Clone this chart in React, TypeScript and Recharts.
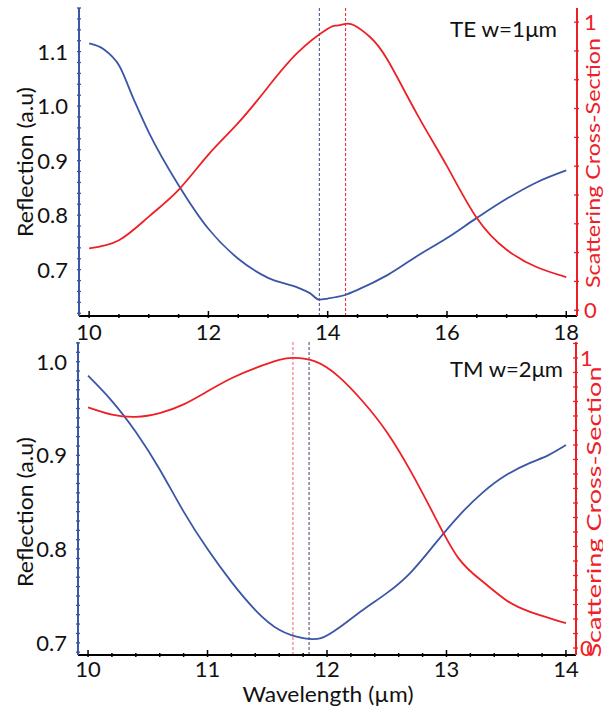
import { LineChart, Line, XAxis, YAxis, ReferenceLine, Label } from 'recharts'

const FONT = 'Lato, "Open Sans", sans-serif'
const BLUE = '#3b56a6'
const RED = '#ee2027'

// TE w=1µm panel
const teBlueX = [10, 10.25, 10.5, 10.75, 11, 11.5, 12, 12.5, 13, 13.5, 13.7, 13.86, 14, 14.3, 14.5, 15, 15.5, 16, 16.5, 17, 17.5, 18]
const teBlueY = [1.115, 1.104, 1.075, 1.012, 0.952, 0.855, 0.775, 0.72, 0.685, 0.667, 0.657, 0.645, 0.647, 0.654, 0.663, 0.69, 0.725, 0.758, 0.795, 0.83, 0.86, 0.882]
const teRedX = [10, 10.5, 11, 11.5, 12, 12.5, 13, 13.5, 14, 14.15, 14.3, 14.45, 14.7, 15, 15.5, 16, 16.5, 17, 17.5, 18]
const teRedY = [0.215, 0.243, 0.325, 0.418, 0.54, 0.65, 0.775, 0.895, 0.977, 0.988, 0.994, 0.988, 0.95, 0.87, 0.68, 0.5, 0.32, 0.21, 0.15, 0.115]
const teXLabels = [10, 12, 14, 16, 18]
const teLeftLabels = [0.7, 0.8, 0.9, 1.0, 1.1]
const teBlueDip = 13.86
const teRedPeak = 14.3

// TM w=2µm panel
const tmBlueX = [10, 10.2, 10.4, 10.6, 10.8, 11, 11.2, 11.4, 11.6, 11.8, 11.95, 12.1, 12.3, 12.5, 12.7, 12.9, 13.1, 13.3, 13.5, 13.7, 13.85, 14]
const tmBlueY = [0.985, 0.958, 0.925, 0.885, 0.84, 0.8, 0.765, 0.735, 0.714, 0.705, 0.705, 0.716, 0.735, 0.753, 0.775, 0.805, 0.835, 0.86, 0.879, 0.892, 0.9, 0.911]
const tmRedX = [10, 10.2, 10.4, 10.6, 10.8, 11, 11.2, 11.4, 11.6, 11.72, 11.9, 12.1, 12.3, 12.5, 12.7, 12.9, 13.1, 13.3, 13.5, 13.7, 14]
const tmRedY = [0.83, 0.805, 0.797, 0.81, 0.84, 0.885, 0.93, 0.965, 0.993, 1.0, 0.988, 0.935, 0.85, 0.745, 0.61, 0.455, 0.31, 0.23, 0.165, 0.125, 0.086]
const tmXLabels = [10, 11, 12, 13, 14]
const tmLeftLabels = [0.7, 0.8, 0.9, 1.0]
const tmRedPeak = 11.715
const tmBlueDip = 11.85

const rightLabels = [0, 1]

const steps = (from: number, to: number, step: number) => {
  const n = Math.round((to - from) / step)
  const out: number[] = []
  for (let i = 0; i <= n; i++) out.push(Math.round((from + i * step) * 1000) / 1000)
  return out
}
const pts = (xs: number[], ys: number[]) => xs.map((x, i) => ({ x, y: ys[i] }))
const isMajor = (v: number, labels: number[]) => labels.some(l => Math.abs(l - v) < 1e-6)

// eslint-disable-next-line @typescript-eslint/no-explicit-any
function Tick(props: any) {
  const { x, y, payload, side, labels, fmt, color, gap = 22 } = props
  const v = payload.value
  const major = isMajor(v, labels)
  const len = major ? 7 : 4
  let line
  let text = null
  if (side === 'bottom') {
    line = <line x1={x} x2={x} y1={y} y2={y - len} stroke="#000" strokeWidth={1.5} />
    if (major) text = <text x={x} y={y + gap} textAnchor="middle" fontSize={22} fontFamily={FONT} fill="#111">{fmt(v)}</text>
  } else if (side === 'top') {
    line = <line x1={x} x2={x} y1={y} y2={y + len} stroke="#000" strokeWidth={1.5} />
  } else if (side === 'left') {
    line = <line x1={x} x2={x + 4} y1={y} y2={y} stroke={BLUE} strokeWidth={1.3} />
    if (major) text = <text x={x - 9} y={y} dy="0.36em" textAnchor="end" fontSize={22} fontFamily={FONT} fill="#111">{fmt(v)}</text>
  } else {
    line = <line x1={x} x2={x - 5} y1={y} y2={y} stroke={color} strokeWidth={1.3} />
    if (major) text = <text x={x + gap} y={y} dy="0.36em" textAnchor="start" fontSize={22} fontFamily={FONT} fill={color}>{fmt(v)}</text>
  }
  return <g>{line}{text}</g>
}

const f1 = (v: number) => v.toFixed(1)
const f0 = (v: number) => String(v)

function vText(x: number, y: number, text: string, color: string, size: number, length?: number) {
  return () => (
    <text transform={`translate(${x},${y}) rotate(-90)`} textAnchor="middle" dominantBaseline="central"
      fontSize={size} fontFamily={FONT} fill={color} textLength={length} lengthAdjust="spacingAndGlyphs">{text}</text>
  )
}

function hText(x: number, y: number, text: string, anchor: 'start' | 'middle' | 'end', length?: number) {
  return () => (
    <text x={x} y={y} textAnchor={anchor} fontSize={22} fontFamily={FONT} fill="#111"
      textLength={length} lengthAdjust="spacingAndGlyphs">{text}</text>
  )
}

function TePanel() {
  const xTicks = steps(10, 18, 0.5)
  const leftTicks = steps(0.62, 1.18, 0.02)
  const rightTicks = steps(0, 1, 0.1)
  return (
    <LineChart width={603} height={345} margin={{ top: 8, right: 0, bottom: 5, left: 19 }}>
      <XAxis xAxisId="b" dataKey="x" type="number" domain={[9.83, 18.18]} ticks={xTicks} interval={0}
        height={24} tickSize={0} tickLine={false} axisLine={{ stroke: '#000', strokeWidth: 2 }}
        tick={(p: any) => <Tick {...p} side="bottom" labels={teXLabels} fmt={f0} gap={22} />} />
      <XAxis xAxisId="t" orientation="top" dataKey="x" type="number" domain={[9.83, 18.18]} ticks={xTicks} interval={0}
        height={0} tickSize={0} tickLine={false} axisLine={{ stroke: '#000', strokeWidth: 1.5 }}
        tick={(p: any) => <Tick {...p} side="top" labels={teXLabels} fmt={f0} />} />
      <YAxis yAxisId="l" type="number" domain={[0.615, 1.18]} ticks={leftTicks} interval={0} width={60}
        tickSize={0} tickLine={false} axisLine={{ stroke: BLUE, strokeWidth: 2 }}
        tick={(p: any) => <Tick {...p} side="left" labels={teLeftLabels} fmt={f1} />}>
        <Label content={vText(24, 162, 'Reflection (a.u)', '#111', 22, 150)} />
      </YAxis>
      <YAxis yAxisId="r" orientation="right" type="number" domain={[-0.02, 1.049]} ticks={rightTicks} interval={0} width={26}
        tickSize={0} tickLine={false} axisLine={{ stroke: RED, strokeWidth: 2 }}
        tick={(p: any) => <Tick {...p} side="right" labels={rightLabels} fmt={f0} color={RED} gap={5} />}>
        <Label content={vText(592, 163, 'Scattering Cross-Section', RED, 20, 250)} />
        <Label content={hText(557, 37, 'TE w=1μm', 'end', 107)} />
      </YAxis>
      <ReferenceLine xAxisId="b" yAxisId="l" x={teBlueDip} stroke="#3d4a86" strokeDasharray="3 2" strokeWidth={1} />
      <ReferenceLine xAxisId="b" yAxisId="l" x={teRedPeak} stroke={RED} strokeDasharray="3 2" strokeWidth={1} />
      <Line xAxisId="b" yAxisId="l" data={pts(teBlueX, teBlueY)} dataKey="y" type="monotone" stroke={BLUE}
        strokeWidth={1.8} dot={false} isAnimationActive={false} />
      <Line xAxisId="b" yAxisId="r" data={pts(teRedX, teRedY)} dataKey="y" type="natural" stroke={RED}
        strokeWidth={1.8} dot={false} isAnimationActive={false} />
    </LineChart>
  )
}

function TmPanel() {
  const xTicks = steps(10, 14, 0.2)
  const leftTicks = steps(0.69, 1.02, 0.01)
  const rightTicks = steps(0, 1.05, 0.05)
  return (
    <LineChart width={603} height={377} margin={{ top: 8, right: 0, bottom: 0, left: 18 }}>
      <XAxis xAxisId="b" dataKey="x" type="number" domain={[9.916, 14.084]} ticks={xTicks} interval={0}
        height={56} tickSize={0} tickLine={false} axisLine={{ stroke: '#000', strokeWidth: 2 }}
        tick={(p: any) => <Tick {...p} side="bottom" labels={tmXLabels} fmt={f0} gap={20} />}>
        <Label content={hText(328, 368, 'Wavelength (µm)', 'middle', 171)} />
      </XAxis>
      <XAxis xAxisId="t" orientation="top" dataKey="x" type="number" domain={[9.916, 14.084]} ticks={xTicks} interval={0}
        height={0} tickSize={0} tickLine={false} axisLine={{ stroke: '#000', strokeWidth: 1.5 }}
        tick={(p: any) => <Tick {...p} side="top" labels={tmXLabels} fmt={f0} />} />
      <YAxis yAxisId="l" type="number" domain={[0.687, 1.021]} ticks={leftTicks} interval={0} width={60}
        tickSize={0} tickLine={false} axisLine={{ stroke: BLUE, strokeWidth: 2 }}
        tick={(p: any) => <Tick {...p} side="left" labels={tmLeftLabels} fmt={f1} />}>
        <Label content={vText(24, 178, 'Reflection (a.u)', '#111', 22, 150)} />
      </YAxis>
      <YAxis yAxisId="r" orientation="right" type="number" domain={[-0.024, 1.055]} ticks={rightTicks} interval={0} width={27}
        tickSize={0} tickLine={false} axisLine={{ stroke: RED, strokeWidth: 2 }}
        tick={(p: any) => <Tick {...p} side="right" labels={rightLabels} fmt={f0} color={RED} gap={2} />}>
        <Label content={vText(593, 178, 'Scattering Cross-Section', RED, 19, 291)} />
        <Label content={hText(563, 43, 'TM w=2μm', 'end', 113)} />
      </YAxis>
      <ReferenceLine xAxisId="b" yAxisId="l" x={tmRedPeak} stroke="#f0606a" strokeDasharray="3 2" strokeWidth={1} />
      <ReferenceLine xAxisId="b" yAxisId="l" x={tmBlueDip} stroke="#3a3f66" strokeDasharray="3 2" strokeWidth={1} />
      <Line xAxisId="b" yAxisId="l" data={pts(tmBlueX, tmBlueY)} dataKey="y" type="natural" stroke={BLUE}
        strokeWidth={1.8} dot={false} isAnimationActive={false} />
      <Line xAxisId="b" yAxisId="r" data={pts(tmRedX, tmRedY)} dataKey="y" type="natural" stroke={RED}
        strokeWidth={1.8} dot={false} isAnimationActive={false} />
    </LineChart>
  )
}

export default function App() {
  return (
    <div style={{ position: 'absolute', left: 0, top: 0, width: 603, height: 711, background: '#fff' }}>
      <div style={{ position: 'absolute', left: 0, top: 0 }}><TePanel /></div>
      <div style={{ position: 'absolute', left: 0, top: 334 }}><TmPanel /></div>
    </div>
  )
}
